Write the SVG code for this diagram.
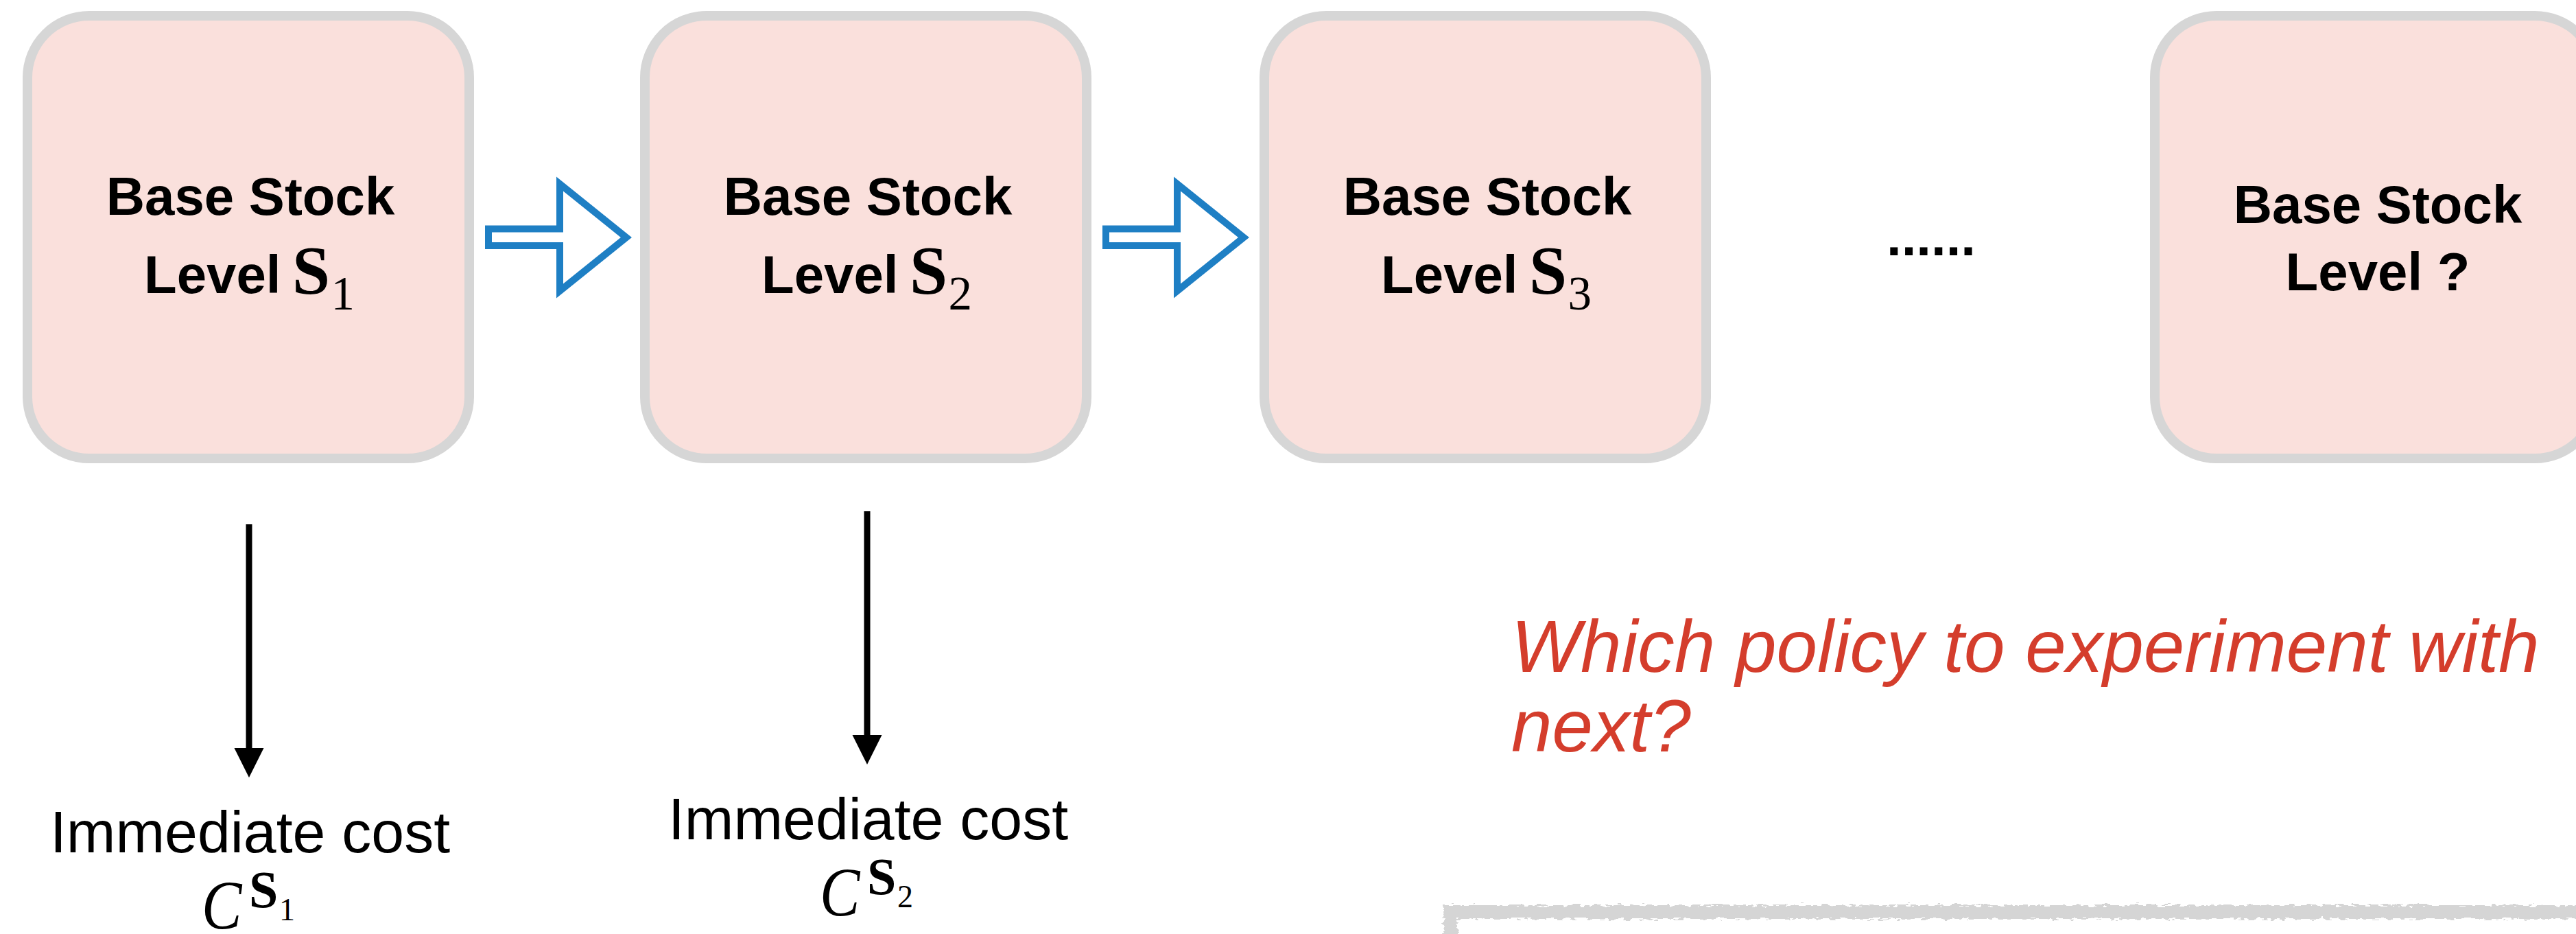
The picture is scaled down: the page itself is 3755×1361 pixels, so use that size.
<svg xmlns="http://www.w3.org/2000/svg" width="3755" height="1361" viewBox="0 0 3755 1361">
  <defs>
    <style>
      .box { fill: #fae0dc; stroke: #d6d6d6; stroke-width: 14; }
      .lbl { font-family: "Liberation Sans", Arial, sans-serif; font-weight: bold; font-size: 78px; fill: #000; }
      .sym { font-family: "Liberation Serif", "Times New Roman", serif; font-weight: bold; font-size: 99px; }
      .sub { font-family: "Liberation Serif", "Times New Roman", serif; font-weight: normal; font-size: 69px; }
      .cost { font-family: "Liberation Sans", Arial, sans-serif; font-size: 86px; fill: #000; }
      .mathC { font-family: "Liberation Serif", "Times New Roman", serif; font-style: italic; font-size: 102px; fill: #000; }
      .supS { font-family: "Liberation Serif", "Times New Roman", serif; font-weight: bold; font-size: 76px; fill: #000; }
      .supSub { font-family: "Liberation Serif", "Times New Roman", serif; font-size: 46px; fill: #000; }
      .step { fill: none; stroke: #1e7fc4; stroke-width: 10; stroke-linejoin: miter; stroke-miterlimit: 10; }
      .down { stroke: #000; stroke-width: 9; fill: none; }
      .question { font-family: "Liberation Sans", Arial, sans-serif; font-style: italic; font-size: 107px; fill: #d43d2c; }
      .sketch { fill: none; stroke: #d5d5d5; stroke-width: 20; }
    </style>
    <marker id="head" markerUnits="userSpaceOnUse" markerWidth="44" markerHeight="44" viewBox="0 0 44 44" refX="0" refY="22" orient="auto">
      <path d="M0,0.5 L43,22 L0,43.5 Z" fill="#000"/>
    </marker>
    <filter id="rough" filterUnits="userSpaceOnUse" x="2070" y="1290" width="1720" height="90">
      <feTurbulence type="fractalNoise" baseFrequency="0.09 0.3" numOctaves="2" seed="7" result="noise"/>
      <feDisplacementMap in="SourceGraphic" in2="noise" scale="12" xChannelSelector="R" yChannelSelector="G"/>
    </filter>
  </defs>

  <rect width="3755" height="1361" fill="#fff"/>

  <!-- policy boxes -->
  <g id="node-s1" transform="translate(40,23)">
    <rect class="box" width="644" height="645" rx="90" ry="90"/>
    <text class="lbl" x="325" y="289.5" text-anchor="middle">Base Stock</text>
    <text class="lbl" y="404"><tspan x="170">Level</tspan><tspan class="sym" x="386">S</tspan><tspan class="sub" x="442.5" y="428">1</tspan></text>
  </g>

  <g id="node-s2" transform="translate(940,23)">
    <rect class="box" width="644" height="645" rx="90" ry="90"/>
    <text class="lbl" x="325" y="289.5" text-anchor="middle">Base Stock</text>
    <text class="lbl" y="404"><tspan x="170">Level</tspan><tspan class="sym" x="386">S</tspan><tspan class="sub" x="442.5" y="428">2</tspan></text>
  </g>

  <g id="node-s3" transform="translate(1843,23)">
    <rect class="box" width="644" height="645" rx="90" ry="90"/>
    <text class="lbl" x="325" y="289.5" text-anchor="middle">Base Stock</text>
    <text class="lbl" y="404"><tspan x="170">Level</tspan><tspan class="sym" x="386">S</tspan><tspan class="sub" x="442.5" y="428">3</tspan></text>
  </g>

  <g id="node-ellipsis">
    <text class="lbl" x="2815" y="372" text-anchor="middle">......</text>
  </g>

  <g id="node-next" transform="translate(3141,23)">
    <rect class="box" width="644" height="645" rx="90" ry="90"/>
    <text class="lbl" x="325" y="302" text-anchor="middle">Base Stock</text>
    <text class="lbl" x="325" y="400" text-anchor="middle">Level ?</text>
  </g>

  <!-- cost outcomes -->
  <g id="node-cost1">
    <text class="cost" x="364.5" y="1242" text-anchor="middle">Immediate cost</text>
    <text class="mathC" transform="translate(294,1354) scale(0.86,1)">C</text>
    <text class="supS" x="363" y="1322">S</text>
    <text class="supSub" x="407" y="1341">1</text>
  </g>

  <g id="node-cost2" transform="translate(901,-19)">
    <text class="cost" x="364.5" y="1242" text-anchor="middle">Immediate cost</text>
    <text class="mathC" transform="translate(294,1354) scale(0.86,1)">C</text>
    <text class="supS" x="363" y="1322">S</text>
    <text class="supSub" x="407" y="1341">2</text>
  </g>

  <!-- open question and sketched panel -->
  <g id="node-question">
    <text class="question" x="2203" y="979">Which policy to experiment with</text>
    <text class="question" x="2203" y="1095">next?</text>
  </g>

  <g id="node-panel">
    <path class="sketch" filter="url(#rough)" d="M2114,1375 V1329 H3775"/>
  </g>

  <!-- connectors -->
  <g id="connectors">
    <polygon class="step" points="712,333.5 816,333.5 816,268 913,346 816,424 816,358 712,358"/>
    <polygon class="step" points="1612,333.5 1716,333.5 1716,268 1813,346 1716,424 1716,358 1612,358"/>
    <line class="down" x1="363" y1="764" x2="363" y2="1090" marker-end="url(#head)"/>
    <line class="down" x1="1264" y1="745" x2="1264" y2="1071" marker-end="url(#head)"/>
  </g>
</svg>
